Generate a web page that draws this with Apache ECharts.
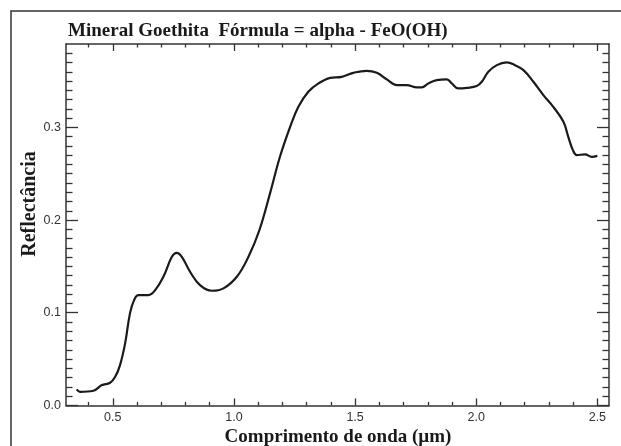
<!DOCTYPE html>
<html>
<head>
<meta charset="utf-8">
<script src="https://cdn.jsdelivr.net/npm/echarts@6/dist/echarts.min.js"></script>
<style>
html,body{margin:0;padding:0;background:#fff;}
#chart{width:621px;height:446px;}
</style>
</head>
<body>
<div id="chart"></div>
<script>
// Wavelength (µm) and reflectance
var wavelength = [0.351,0.365,0.420,0.455,0.489,0.510,0.530,0.551,0.571,0.588,0.606,0.647,0.675,0.709,0.744,0.764,0.785,0.819,0.860,0.909,0.957,1.012,1.060,1.105,1.149,1.190,1.232,1.266,1.307,1.349,1.397,1.445,1.493,1.548,1.590,1.631,1.672,1.713,1.755,1.775,1.803,1.837,1.879,1.899,1.926,1.961,2.002,2.023,2.050,2.085,2.126,2.160,2.195,2.236,2.277,2.318,2.360,2.380,2.399,2.415,2.449,2.477,2.500];
var reflectance = [0.0173,0.0147,0.0158,0.0219,0.0244,0.0309,0.0435,0.0669,0.0993,0.1136,0.1190,0.1190,0.1244,0.1388,0.1604,0.1647,0.1604,0.1442,0.1298,0.1237,0.1263,0.1388,0.1604,0.1890,0.2288,0.2683,0.3006,0.3222,0.3384,0.3475,0.3535,0.3546,0.3589,0.3611,0.3589,0.3518,0.3456,0.3456,0.3432,0.3432,0.3475,0.3510,0.3518,0.3475,0.3421,0.3427,0.3446,0.3492,0.3600,0.3672,0.3701,0.3672,0.3618,0.3492,0.3348,0.3222,0.3060,0.2898,0.2755,0.2701,0.2709,0.2683,0.2693];

var xMajorTicks = [0.5, 1.0, 1.5, 2.0, 2.5];
var xMinorTicks = [0.4, 0.6, 0.7, 0.8, 0.9, 1.1, 1.2, 1.3, 1.4, 1.6, 1.7, 1.8, 1.9, 2.1, 2.2, 2.3, 2.4];
var yMajorTicks = [0.0, 0.1, 0.2, 0.3];
var yMinorTicks = [0.01,0.02,0.03,0.04,0.05,0.06,0.07,0.08,0.09,0.11,0.12,0.13,0.14,0.15,0.16,0.17,0.18,0.19,0.21,0.22,0.23,0.24,0.25,0.26,0.27,0.28,0.29,0.31,0.32,0.33,0.34,0.35,0.36,0.37,0.38];

var titleText = 'Mineral Goethita  Fórmula = alpha - FeO(OH)';
var xTitle = 'Comprimento de onda (µm)';
var yTitle = 'Reflectância';

var X_MIN = 0.307, X_MAX = 2.548, Y_MIN = 0, Y_MAX = 0.39;
var lineCol = '#333';
var serif = 'Liberation Serif, Times New Roman, serif';
var sans = 'Liberation Sans, Arial, sans-serif';
var gridRect = {left: 66, top: 44, width: 543, height: 361.4};

function mkAxis(gridIndex, pos, mn, mx, ticks, len, labels, lineShow, margin) {
  return {
    type: 'value', gridIndex: gridIndex, position: pos, min: mn, max: mx,
    axisLine: {show: lineShow, onZero: false, lineStyle: {color: lineCol, width: 1.5}},
    axisTick: {show: true, inside: true, length: len, customValues: ticks, lineStyle: {color: lineCol, width: 1.3}},
    axisLabel: labels ? {show: true, inside: false, customValues: ticks, margin: margin, color: '#333', fontFamily: sans, fontSize: 12.5, formatter: function(v){return v.toFixed(1);}} : {show: false},
    splitLine: {show: false}
  };
}

var seriesData = wavelength.map(function(w, i){ return [w, reflectance[i]]; });

var grids = [0,1,2,3].map(function(){
  return {left: gridRect.left, top: gridRect.top, width: gridRect.width, height: gridRect.height, containLabel: false, outerBoundsMode: 'none'};
});

var chart = echarts.init(document.getElementById('chart'), null, {renderer: 'canvas'});
chart.setOption({
  animation: false,
  backgroundColor: '#fff',
  title: {
    text: titleText, left: 68, top: 22, padding: 0,
    textStyle: {fontFamily: serif, fontWeight: 'bold', fontSize: 19, color: '#1a1a1a'}
  },
  graphic: [{
    type: 'rect', shape: {x: 11, y: 11, width: 640, height: 460},
    style: {fill: null, stroke: '#333', lineWidth: 1.5}, silent: true
  }, {
    type: 'text', x: 30, y: 204, rotation: Math.PI / 2,
    style: {text: yTitle, fontFamily: serif, fontWeight: 'bold', fontSize: 20, fill: '#1a1a1a', textAlign: 'center', textVerticalAlign: 'middle'},
    silent: true
  }, {
    type: 'text', x: 338, y: 437,
    style: {text: xTitle, fontFamily: serif, fontWeight: 'bold', fontSize: 19, fill: '#1a1a1a', textAlign: 'center', textVerticalAlign: 'middle'},
    silent: true
  }],
  grid: grids,
  xAxis: [
    mkAxis(0, 'bottom', X_MIN, X_MAX, xMajorTicks, 7, true, true, 6),
    mkAxis(1, 'top', X_MIN, X_MAX, xMajorTicks, 7, false, true, 6),
    mkAxis(2, 'bottom', X_MIN, X_MAX, xMinorTicks, 3.5, false, false, 6),
    mkAxis(3, 'top', X_MIN, X_MAX, xMinorTicks, 3.5, false, false, 6)
  ],
  yAxis: [
    mkAxis(0, 'left', Y_MIN, Y_MAX, yMajorTicks, 12, true, true, 5),
    mkAxis(1, 'right', Y_MIN, Y_MAX, yMajorTicks, 12, false, true, 5),
    mkAxis(2, 'left', Y_MIN, Y_MAX, yMinorTicks, 6.5, false, false, 5),
    mkAxis(3, 'right', Y_MIN, Y_MAX, yMinorTicks, 6.5, false, false, 5)
  ],
  series: [{
    type: 'line', xAxisIndex: 0, yAxisIndex: 0, data: seriesData,
    smooth: 0.4, showSymbol: false, silent: true,
    lineStyle: {color: '#1a1a1a', width: 2.2}
  }]
});
</script>
</body>
</html>
